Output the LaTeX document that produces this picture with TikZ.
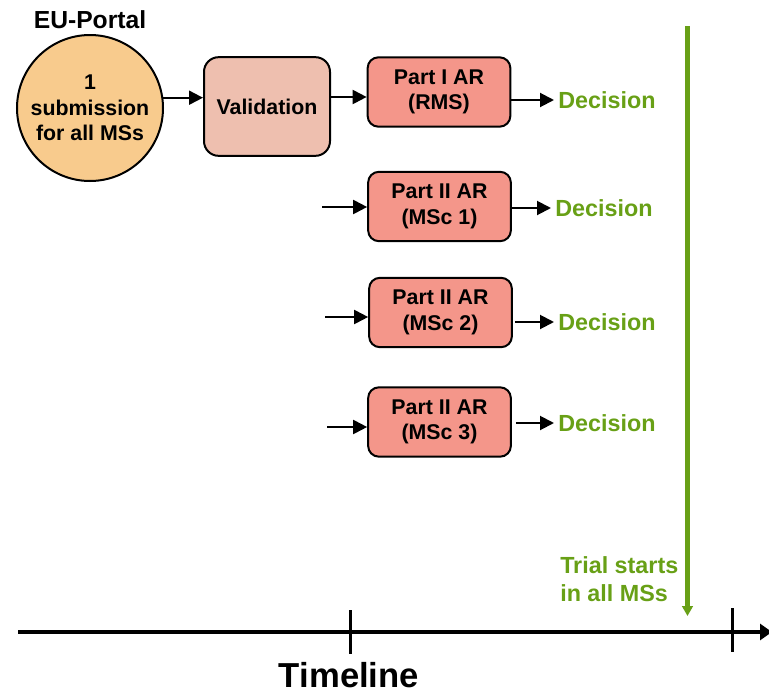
\documentclass[tikz,border=0pt]{standalone}
\usepackage{fontspec}
\setmainfont{Liberation Sans}
\usepackage{tikz}
\usetikzlibrary{arrows.meta,positioning}
\definecolor{portalorange}{RGB}{248,203,141}
\definecolor{validpink}{RGB}{238,191,175}
\definecolor{arsalmon}{RGB}{244,150,138}
\definecolor{decgreen}{RGB}{104,160,22}

\begin{document}
\begin{tikzpicture}[x=0.75pt,y=-0.75pt,>={Triangle[length=10.5pt,width=10.5pt]},
  txt/.style={font=\bfseries\fontsize{16}{19}\selectfont,align=center},
  portal/.style={circle,draw,line width=1.5pt,fill=portalorange,minimum size=109.5pt,inner sep=0pt,txt},
  valbox/.style={rectangle,rounded corners=11pt,draw,line width=1.5pt,fill=validpink,minimum width=94.5pt,minimum height=74pt,txt},
  arbox/.style={rectangle,rounded corners=8pt,draw,line width=1.5pt,fill=arsalmon,minimum width=107pt,minimum height=52pt,inner sep=0pt,txt},
  dec/.style={anchor=west,inner sep=0pt,text=decgreen,font=\bfseries\fontsize{17.5}{21}\selectfont},
  flow/.style={->,line width=1.5pt,shorten >=3pt}]
  \useasboundingbox (0,0) rectangle (769,693);

  % submission and validation
  \node [font=\bfseries\fontsize{18.5}{22}\selectfont] (eu) at (90,20) {EU-Portal};
  \node [portal] (sub) at (90,108) {1\\submission\\for all MSs};
  \node [valbox] (valid) at (267,106.5) {Validation};

  % assessment reports
  \node [arbox] (p1) at (439,92) {Part I AR\\(RMS)};
  \node [arbox] (p2) at (439.5,206.5) {Part II AR\\(MSc 1)};
  \node [arbox] (p3) at (440.5,312.5) {Part II AR\\(MSc 2)};
  \node [arbox] (p4) at (439.5,422) {Part II AR\\(MSc 3)};

  \node [dec] (d1) at (558,100) {Decision};
  \node [dec] (d2) at (555,208) {Decision};
  \node [dec] (d3) at (558,322) {Decision};
  \node [dec] (d4) at (558,423) {Decision};

  \coordinate (in1) at ([yshift=-3.75pt]p1.west);
  \coordinate (s2) at (322,207);
  \coordinate (s3) at (325,317);
  \coordinate (s4) at (327,427);

  \draw [->,line width=1.5pt] (sub.8) -- (sub.8 -| valid.west);
  \draw [->,line width=1.5pt] (valid.east |- in1) -- (in1);
  \draw [->,line width=1.5pt] (s2) -- (s2 -| p2.west);
  \draw [->,line width=1.5pt] (s3) -- (s3 -| p3.west);
  \draw [->,line width=1.5pt] (s4) -- (s4 -| p4.west);

  \draw [flow] (p1.east |- d1.west) -- (d1.west);
  \draw [flow] (p2.east |- d2.west) -- (d2.west);
  \draw [flow] ([xshift=1.5pt]p3.east |- d3.west) -- (d3.west);
  \draw [flow] ([xshift=3pt]p4.east |- d4.west) -- (d4.west);

  % trial start
  \coordinate (gtop) at (687.5,26);
  \coordinate (gbot) at (687.5,616);
  \draw [decgreen,line width=3.75pt,-{Triangle[length=7.5pt,width=8pt]}] (gtop) -- (gbot);
  \node [text=decgreen,anchor=west,align=left,inner sep=0pt,font=\bfseries\fontsize{17.5}{21}\selectfont] (trial) at (560,579) {Trial starts\\in all MSs};

  % timeline
  \coordinate (t0) at (18,632);
  \coordinate (t1) at (772,632);
  \draw [line width=3.5pt,-{Triangle[length=9pt,width=12pt]}] (t0) -- (t1);
  \draw [line width=2.25pt] (350,610) -- (350,654);
  \draw [line width=2.25pt] (732,608) -- (732,652);
  \node [font=\bfseries\fontsize{26}{30}\selectfont] (tl) at (349,675) {Timeline};
\end{tikzpicture}
\end{document}
